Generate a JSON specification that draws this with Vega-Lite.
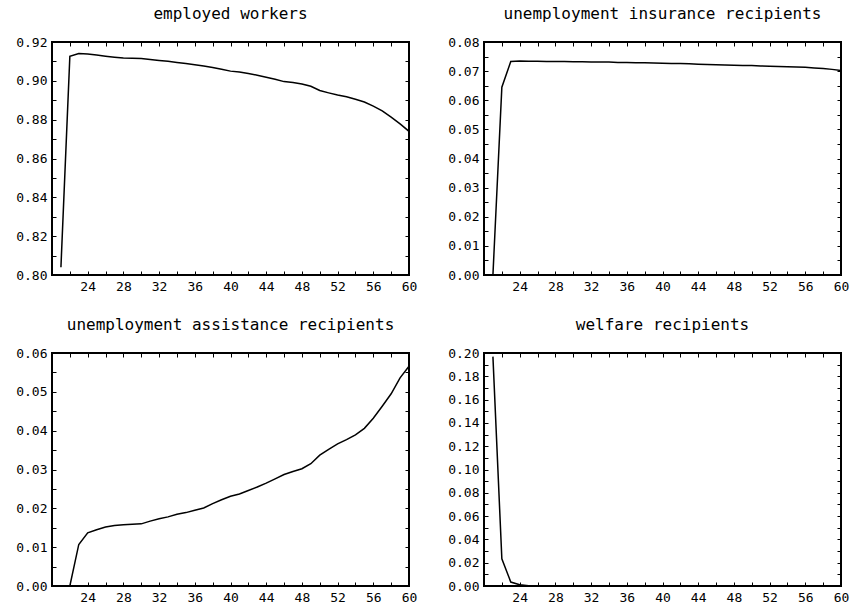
{
  "$schema": "https://vega.github.io/schema/vega-lite/v6.json",
  "padding": {"left": 14, "top": 5, "right": 5, "bottom": 5},
  "datasets": {
    "d": [
      {"age": 21, "series": "emp", "value": 0.804},
      {"age": 22, "series": "emp", "value": 0.9126},
      {"age": 23, "series": "emp", "value": 0.9141},
      {"age": 24, "series": "emp", "value": 0.9138},
      {"age": 25, "series": "emp", "value": 0.9133},
      {"age": 26, "series": "emp", "value": 0.9127},
      {"age": 27, "series": "emp", "value": 0.9122},
      {"age": 28, "series": "emp", "value": 0.9118},
      {"age": 29, "series": "emp", "value": 0.9116},
      {"age": 30, "series": "emp", "value": 0.9115},
      {"age": 31, "series": "emp", "value": 0.911},
      {"age": 32, "series": "emp", "value": 0.9105},
      {"age": 33, "series": "emp", "value": 0.9101},
      {"age": 34, "series": "emp", "value": 0.9095},
      {"age": 35, "series": "emp", "value": 0.9089},
      {"age": 36, "series": "emp", "value": 0.9083},
      {"age": 37, "series": "emp", "value": 0.9076},
      {"age": 38, "series": "emp", "value": 0.9069},
      {"age": 39, "series": "emp", "value": 0.906},
      {"age": 40, "series": "emp", "value": 0.905},
      {"age": 41, "series": "emp", "value": 0.9045},
      {"age": 42, "series": "emp", "value": 0.9038},
      {"age": 43, "series": "emp", "value": 0.9029},
      {"age": 44, "series": "emp", "value": 0.9019},
      {"age": 45, "series": "emp", "value": 0.9008},
      {"age": 46, "series": "emp", "value": 0.8996},
      {"age": 47, "series": "emp", "value": 0.8991},
      {"age": 48, "series": "emp", "value": 0.8984},
      {"age": 49, "series": "emp", "value": 0.8972},
      {"age": 50, "series": "emp", "value": 0.895},
      {"age": 51, "series": "emp", "value": 0.8938},
      {"age": 52, "series": "emp", "value": 0.8927},
      {"age": 53, "series": "emp", "value": 0.8918},
      {"age": 54, "series": "emp", "value": 0.8905},
      {"age": 55, "series": "emp", "value": 0.8891},
      {"age": 56, "series": "emp", "value": 0.887},
      {"age": 57, "series": "emp", "value": 0.8845},
      {"age": 58, "series": "emp", "value": 0.8813},
      {"age": 59, "series": "emp", "value": 0.8778},
      {"age": 60, "series": "emp", "value": 0.874},

      {"age": 21, "series": "ui", "value": 0.0},
      {"age": 22, "series": "ui", "value": 0.0645},
      {"age": 23, "series": "ui", "value": 0.0733},
      {"age": 24, "series": "ui", "value": 0.0735},
      {"age": 25, "series": "ui", "value": 0.0734},
      {"age": 26, "series": "ui", "value": 0.0734},
      {"age": 27, "series": "ui", "value": 0.0733},
      {"age": 28, "series": "ui", "value": 0.0733},
      {"age": 29, "series": "ui", "value": 0.0733},
      {"age": 30, "series": "ui", "value": 0.0732},
      {"age": 31, "series": "ui", "value": 0.0732},
      {"age": 32, "series": "ui", "value": 0.0731},
      {"age": 33, "series": "ui", "value": 0.0731},
      {"age": 34, "series": "ui", "value": 0.0731},
      {"age": 35, "series": "ui", "value": 0.073},
      {"age": 36, "series": "ui", "value": 0.073},
      {"age": 37, "series": "ui", "value": 0.0729},
      {"age": 38, "series": "ui", "value": 0.0729},
      {"age": 39, "series": "ui", "value": 0.0728},
      {"age": 40, "series": "ui", "value": 0.0727},
      {"age": 41, "series": "ui", "value": 0.0726},
      {"age": 42, "series": "ui", "value": 0.0726},
      {"age": 43, "series": "ui", "value": 0.0725},
      {"age": 44, "series": "ui", "value": 0.0724},
      {"age": 45, "series": "ui", "value": 0.0723},
      {"age": 46, "series": "ui", "value": 0.0722},
      {"age": 47, "series": "ui", "value": 0.0721},
      {"age": 48, "series": "ui", "value": 0.072},
      {"age": 49, "series": "ui", "value": 0.0719},
      {"age": 50, "series": "ui", "value": 0.0719},
      {"age": 51, "series": "ui", "value": 0.0718},
      {"age": 52, "series": "ui", "value": 0.0717},
      {"age": 53, "series": "ui", "value": 0.0716},
      {"age": 54, "series": "ui", "value": 0.0715},
      {"age": 55, "series": "ui", "value": 0.0714},
      {"age": 56, "series": "ui", "value": 0.0713},
      {"age": 57, "series": "ui", "value": 0.0711},
      {"age": 58, "series": "ui", "value": 0.0709},
      {"age": 59, "series": "ui", "value": 0.0706},
      {"age": 60, "series": "ui", "value": 0.0702},

      {"age": 21, "series": "ua", "value": 0.0},
      {"age": 22, "series": "ua", "value": 0.0},
      {"age": 23, "series": "ua", "value": 0.0107},
      {"age": 24, "series": "ua", "value": 0.0137},
      {"age": 25, "series": "ua", "value": 0.0145},
      {"age": 26, "series": "ua", "value": 0.0152},
      {"age": 27, "series": "ua", "value": 0.0156},
      {"age": 28, "series": "ua", "value": 0.0158},
      {"age": 29, "series": "ua", "value": 0.0159},
      {"age": 30, "series": "ua", "value": 0.016},
      {"age": 31, "series": "ua", "value": 0.0167},
      {"age": 32, "series": "ua", "value": 0.0173},
      {"age": 33, "series": "ua", "value": 0.0178},
      {"age": 34, "series": "ua", "value": 0.0185},
      {"age": 35, "series": "ua", "value": 0.0189},
      {"age": 36, "series": "ua", "value": 0.0195},
      {"age": 37, "series": "ua", "value": 0.0201},
      {"age": 38, "series": "ua", "value": 0.0212},
      {"age": 39, "series": "ua", "value": 0.0222},
      {"age": 40, "series": "ua", "value": 0.0231},
      {"age": 41, "series": "ua", "value": 0.0237},
      {"age": 42, "series": "ua", "value": 0.0246},
      {"age": 43, "series": "ua", "value": 0.0255},
      {"age": 44, "series": "ua", "value": 0.0265},
      {"age": 45, "series": "ua", "value": 0.0276},
      {"age": 46, "series": "ua", "value": 0.0287},
      {"age": 47, "series": "ua", "value": 0.0295},
      {"age": 48, "series": "ua", "value": 0.0302},
      {"age": 49, "series": "ua", "value": 0.0315},
      {"age": 50, "series": "ua", "value": 0.0337},
      {"age": 51, "series": "ua", "value": 0.0352},
      {"age": 52, "series": "ua", "value": 0.0366},
      {"age": 53, "series": "ua", "value": 0.0377},
      {"age": 54, "series": "ua", "value": 0.0389},
      {"age": 55, "series": "ua", "value": 0.0406},
      {"age": 56, "series": "ua", "value": 0.0432},
      {"age": 57, "series": "ua", "value": 0.0463},
      {"age": 58, "series": "ua", "value": 0.0495},
      {"age": 59, "series": "ua", "value": 0.0536},
      {"age": 60, "series": "ua", "value": 0.0566},

      {"age": 21, "series": "wel", "value": 0.1969},
      {"age": 22, "series": "wel", "value": 0.0233},
      {"age": 23, "series": "wel", "value": 0.0034},
      {"age": 24, "series": "wel", "value": 0.0011},
      {"age": 25, "series": "wel", "value": 0.0003},
      {"age": 26, "series": "wel", "value": 0.0},
      {"age": 27, "series": "wel", "value": 0.0},
      {"age": 28, "series": "wel", "value": 0.0},
      {"age": 29, "series": "wel", "value": 0.0},
      {"age": 30, "series": "wel", "value": 0.0},
      {"age": 31, "series": "wel", "value": 0.0},
      {"age": 32, "series": "wel", "value": 0.0},
      {"age": 33, "series": "wel", "value": 0.0},
      {"age": 34, "series": "wel", "value": 0.0},
      {"age": 35, "series": "wel", "value": 0.0},
      {"age": 36, "series": "wel", "value": 0.0},
      {"age": 37, "series": "wel", "value": 0.0},
      {"age": 38, "series": "wel", "value": 0.0},
      {"age": 39, "series": "wel", "value": 0.0},
      {"age": 40, "series": "wel", "value": 0.0},
      {"age": 41, "series": "wel", "value": 0.0},
      {"age": 42, "series": "wel", "value": 0.0},
      {"age": 43, "series": "wel", "value": 0.0},
      {"age": 44, "series": "wel", "value": 0.0},
      {"age": 45, "series": "wel", "value": 0.0},
      {"age": 46, "series": "wel", "value": 0.0},
      {"age": 47, "series": "wel", "value": 0.0},
      {"age": 48, "series": "wel", "value": 0.0},
      {"age": 49, "series": "wel", "value": 0.0},
      {"age": 50, "series": "wel", "value": 0.0},
      {"age": 51, "series": "wel", "value": 0.0},
      {"age": 52, "series": "wel", "value": 0.0},
      {"age": 53, "series": "wel", "value": 0.0},
      {"age": 54, "series": "wel", "value": 0.0},
      {"age": 55, "series": "wel", "value": 0.0},
      {"age": 56, "series": "wel", "value": 0.0},
      {"age": 57, "series": "wel", "value": 0.0},
      {"age": 58, "series": "wel", "value": 0.0},
      {"age": 59, "series": "wel", "value": 0.0},
      {"age": 60, "series": "wel", "value": 0.0}
    ]
  },
  "data": {"name": "d"},
  "config": {
    "view": {"stroke": "black", "strokeWidth": 2},
    "axis": {
      "domain": false, "grid": false, "ticks": true, "tickSize": -4, "tickColor": "black", "tickWidth": 1,
      "labelFont": "DejaVu Sans Mono", "labelFontSize": 13, "labelColor": "black", "labelPadding": 9,
      "labelOverlap": false, "labelFlush": false, "labelBound": false
    },
    "title": {"font": "DejaVu Sans Mono", "fontSize": 16, "fontWeight": "normal", "color": "black", "offset": 14, "anchor": "middle"}
  },
  "columns": 2,
  "spacing": {"column": 28, "row": 22},
  "concat": [
    {
      "title": "employed workers",
      "width": 357, "height": 233,
      "transform": [{"filter": "datum.series == 'emp'"}],
      "layer": [
        {
          "mark": {"type": "line", "color": "black", "strokeWidth": 1.5, "clip": true},
          "encoding": {
            "x": {"field": "age", "type": "quantitative", "title": null, "scale": {"domain": [20, 60], "nice": false},
              "axis": {"orient": "bottom", "values": [20,22,24,26,28,30,32,34,36,38,40,42,44,46,48,50,52,54,56,58,60], "labelExpr": "datum.value % 4 == 0 && datum.value > 20 ? datum.label : ''"}},
            "y": {"field": "value", "type": "quantitative", "title": null, "scale": {"domain": [0.8, 0.92], "nice": false, "zero": false},
              "axis": {"orient": "left", "values": [0.8,0.81,0.82,0.83,0.84,0.85,0.86,0.87,0.88,0.89,0.9,0.91,0.92], "labelExpr": "round(datum.value*100) % 2 == 0 ? format(datum.value, '.2f') : ''"}}
          }
        },
        {
          "mark": {"type": "line", "opacity": 0},
          "encoding": {
            "x": {"field": "age", "type": "quantitative", "title": null, "scale": {"domain": [20, 60], "nice": false},
              "axis": {"orient": "top", "labels": false, "values": [20,22,24,26,28,30,32,34,36,38,40,42,44,46,48,50,52,54,56,58,60]}},
            "y": {"field": "value", "type": "quantitative", "title": null, "scale": {"domain": [0.8, 0.92], "nice": false, "zero": false},
              "axis": {"orient": "right", "labels": false, "values": [0.8,0.81,0.82,0.83,0.84,0.85,0.86,0.87,0.88,0.89,0.9,0.91,0.92]}}
          }
        }
      ],
      "resolve": {"axis": {"x": "independent", "y": "independent"}}
    },
    {
      "title": "unemployment insurance recipients",
      "width": 357, "height": 233,
      "transform": [{"filter": "datum.series == 'ui'"}],
      "layer": [
        {
          "mark": {"type": "line", "color": "black", "strokeWidth": 1.5, "clip": true},
          "encoding": {
            "x": {"field": "age", "type": "quantitative", "title": null, "scale": {"domain": [20, 60], "nice": false},
              "axis": {"orient": "bottom", "values": [20,22,24,26,28,30,32,34,36,38,40,42,44,46,48,50,52,54,56,58,60], "labelExpr": "datum.value % 4 == 0 && datum.value > 20 ? datum.label : ''"}},
            "y": {"field": "value", "type": "quantitative", "title": null, "scale": {"domain": [0, 0.08], "nice": false},
              "axis": {"orient": "left", "values": [0,0.005,0.01,0.015,0.02,0.025,0.03,0.035,0.04,0.045,0.05,0.055,0.06,0.065,0.07,0.075,0.08], "labelExpr": "round(datum.value*1000) % 10 == 0 ? format(datum.value, '.2f') : ''"}}
          }
        },
        {
          "mark": {"type": "line", "opacity": 0},
          "encoding": {
            "x": {"field": "age", "type": "quantitative", "title": null, "scale": {"domain": [20, 60], "nice": false},
              "axis": {"orient": "top", "labels": false, "values": [20,22,24,26,28,30,32,34,36,38,40,42,44,46,48,50,52,54,56,58,60]}},
            "y": {"field": "value", "type": "quantitative", "title": null, "scale": {"domain": [0, 0.08], "nice": false},
              "axis": {"orient": "right", "labels": false, "values": [0,0.005,0.01,0.015,0.02,0.025,0.03,0.035,0.04,0.045,0.05,0.055,0.06,0.065,0.07,0.075,0.08]}}
          }
        }
      ],
      "resolve": {"axis": {"x": "independent", "y": "independent"}}
    },
    {
      "title": "unemployment assistance recipients",
      "width": 357, "height": 233,
      "transform": [{"filter": "datum.series == 'ua'"}],
      "layer": [
        {
          "mark": {"type": "line", "color": "black", "strokeWidth": 1.5, "clip": true},
          "encoding": {
            "x": {"field": "age", "type": "quantitative", "title": null, "scale": {"domain": [20, 60], "nice": false},
              "axis": {"orient": "bottom", "values": [20,22,24,26,28,30,32,34,36,38,40,42,44,46,48,50,52,54,56,58,60], "labelExpr": "datum.value % 4 == 0 && datum.value > 20 ? datum.label : ''"}},
            "y": {"field": "value", "type": "quantitative", "title": null, "scale": {"domain": [0, 0.06], "nice": false},
              "axis": {"orient": "left", "values": [0,0.005,0.01,0.015,0.02,0.025,0.03,0.035,0.04,0.045,0.05,0.055,0.06], "labelExpr": "round(datum.value*1000) % 10 == 0 ? format(datum.value, '.2f') : ''"}}
          }
        },
        {
          "mark": {"type": "line", "opacity": 0},
          "encoding": {
            "x": {"field": "age", "type": "quantitative", "title": null, "scale": {"domain": [20, 60], "nice": false},
              "axis": {"orient": "top", "labels": false, "values": [20,22,24,26,28,30,32,34,36,38,40,42,44,46,48,50,52,54,56,58,60]}},
            "y": {"field": "value", "type": "quantitative", "title": null, "scale": {"domain": [0, 0.06], "nice": false},
              "axis": {"orient": "right", "labels": false, "values": [0,0.005,0.01,0.015,0.02,0.025,0.03,0.035,0.04,0.045,0.05,0.055,0.06]}}
          }
        }
      ],
      "resolve": {"axis": {"x": "independent", "y": "independent"}}
    },
    {
      "title": "welfare recipients",
      "width": 357, "height": 233,
      "transform": [{"filter": "datum.series == 'wel'"}],
      "layer": [
        {
          "mark": {"type": "line", "color": "black", "strokeWidth": 1.5, "clip": true},
          "encoding": {
            "x": {"field": "age", "type": "quantitative", "title": null, "scale": {"domain": [20, 60], "nice": false},
              "axis": {"orient": "bottom", "values": [20,22,24,26,28,30,32,34,36,38,40,42,44,46,48,50,52,54,56,58,60], "labelExpr": "datum.value % 4 == 0 && datum.value > 20 ? datum.label : ''"}},
            "y": {"field": "value", "type": "quantitative", "title": null, "scale": {"domain": [0, 0.2], "nice": false},
              "axis": {"orient": "left", "values": [0,0.01,0.02,0.03,0.04,0.05,0.06,0.07,0.08,0.09,0.1,0.11,0.12,0.13,0.14,0.15,0.16,0.17,0.18,0.19,0.2], "labelExpr": "round(datum.value*100) % 2 == 0 ? format(datum.value, '.2f') : ''"}}
          }
        },
        {
          "mark": {"type": "line", "opacity": 0},
          "encoding": {
            "x": {"field": "age", "type": "quantitative", "title": null, "scale": {"domain": [20, 60], "nice": false},
              "axis": {"orient": "top", "labels": false, "values": [20,22,24,26,28,30,32,34,36,38,40,42,44,46,48,50,52,54,56,58,60]}},
            "y": {"field": "value", "type": "quantitative", "title": null, "scale": {"domain": [0, 0.2], "nice": false},
              "axis": {"orient": "right", "labels": false, "values": [0,0.01,0.02,0.03,0.04,0.05,0.06,0.07,0.08,0.09,0.1,0.11,0.12,0.13,0.14,0.15,0.16,0.17,0.18,0.19,0.2]}}
          }
        }
      ],
      "resolve": {"axis": {"x": "independent", "y": "independent"}}
    }
  ]
}
